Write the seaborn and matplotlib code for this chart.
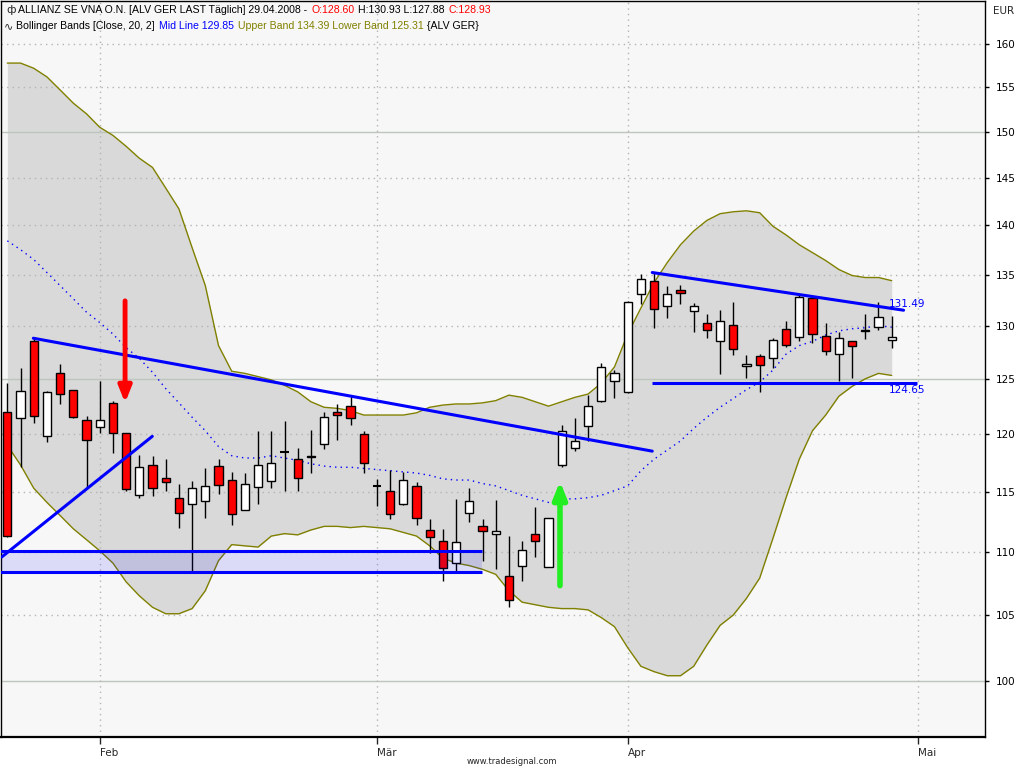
import numpy as np
import pandas as pd
import matplotlib
matplotlib.use("Agg")
import matplotlib.pyplot as plt
import matplotlib.ticker as mticker
import seaborn as sns

# daily candles, 23.01.2008 - 29.04.2008 (trading days only)
opens = [122.0, 121.4, 128.5, 119.8, 125.5, 124.0, 121.3, 120.6, 122.8, 120.1,
         114.7, 117.3, 116.2, 114.5, 114.0, 114.2, 117.2, 116.0, 113.5, 115.4,
         115.9, 118.4, 117.8, 118.0, 119.1, 122.0, 122.5, 120.0, 115.5, 115.1,
         114.0, 115.5, 111.8, 110.9, 109.1, 113.2, 112.1, 111.5, 108.1, 108.9,
         111.5, 108.8, 117.3, 118.8, 120.7, 123.0, 124.8, 123.8, 133.1, 134.4,
         131.9, 133.5, 131.4, 130.3, 128.5, 130.1, 126.2, 127.1, 126.9, 129.7,
         128.9, 132.7, 129.0, 127.3, 128.5, 129.5, 129.9, 128.60]
highs = [124.6, 126.0, 128.8, 123.9, 126.4, 124.0, 121.6, 124.8, 123.0, 120.1,
         118.2, 118.1, 117.8, 115.7, 115.9, 117.0, 117.8, 116.7, 116.6, 120.3,
         120.3, 121.2, 118.8, 120.4, 122.0, 122.7, 123.5, 120.3, 116.1, 116.9,
         116.7, 115.8, 112.7, 111.9, 114.4, 115.3, 112.7, 114.3, 111.3, 110.9,
         113.7, 112.8, 120.8, 121.4, 123.5, 126.5, 125.8, 132.4, 135.1, 135.2,
         133.9, 134.0, 132.2, 131.1, 131.5, 132.3, 127.2, 127.3, 128.8, 130.4,
         133.0, 132.8, 130.3, 129.4, 128.5, 131.1, 132.3, 130.93]
lows = [111.2, 117.1, 121.0, 119.3, 122.7, 121.4, 115.3, 120.1, 118.3, 115.1,
        114.5, 114.6, 115.1, 112.0, 108.4, 112.8, 114.8, 112.2, 113.5, 114.0,
        115.3, 115.1, 115.1, 116.6, 118.7, 119.5, 120.8, 116.6, 113.8, 112.7,
        113.9, 112.2, 109.9, 107.7, 108.4, 112.5, 109.3, 108.6, 105.6, 107.7,
        109.6, 108.8, 117.1, 118.5, 119.4, 122.9, 123.2, 123.7, 132.1, 129.8,
        130.7, 132.1, 129.4, 128.8, 125.4, 127.2, 125.1, 123.8, 126.0, 128.0,
        128.5, 128.3, 127.2, 124.8, 125.1, 128.7, 129.6, 127.88]
closes = [111.3, 123.9, 121.6, 123.8, 123.6, 121.5, 119.5, 121.3, 120.1, 115.2,
          117.1, 115.3, 115.8, 113.2, 115.3, 115.5, 115.6, 113.1, 115.7, 117.3,
          117.5, 118.4, 116.2, 118.1, 121.5, 121.7, 121.4, 117.5, 115.5, 113.1,
          116.0, 112.8, 111.2, 108.7, 110.8, 114.2, 111.7, 111.7, 106.2, 110.2,
          110.9, 112.8, 120.3, 119.4, 122.5, 126.1, 125.5, 132.3, 134.6, 131.6,
          133.1, 133.2, 131.9, 129.6, 130.4, 127.8, 126.4, 126.3, 128.6, 128.2,
          132.8, 129.2, 127.6, 128.8, 128.1, 129.6, 130.8, 128.93]

# Bollinger Bands [Close, 20, 2]
upper_band = [157.8, 157.8, 157.2, 156.2, 154.7, 153.2, 152.0, 150.5, 149.6, 148.4,
              147.1, 146.1, 143.9, 141.7, 137.7, 133.9, 128.1, 125.7, 125.5, 125.2,
              124.9, 124.4, 123.8, 122.9, 122.4, 122.3, 122.1, 121.7, 121.7, 121.7,
              121.7, 121.9, 122.4, 122.6, 122.7, 122.7, 122.8, 123.0, 123.5, 123.3,
              122.9, 122.5, 122.9, 123.3, 123.6, 124.6, 126.1, 129.2, 131.7, 134.2,
              136.2, 138.0, 139.4, 140.5, 141.2, 141.4, 141.5, 141.3, 139.9, 139.0,
              138.0, 137.2, 136.4, 135.5, 134.9, 134.7, 134.7, 134.39]
mid_line = [138.4, 137.5, 136.5, 135.2, 133.9, 132.6, 131.3, 130.3, 129.2, 127.9,
            126.9, 125.6, 124.1, 122.8, 121.5, 120.3, 118.9, 118.1, 117.9, 117.9,
            118.1, 117.9, 117.7, 117.4, 117.2, 117.1, 117.1, 117.0, 116.9, 116.8,
            116.7, 116.6, 116.4, 116.1, 116.0, 116.0, 115.7, 115.5, 115.1, 114.7,
            114.4, 114.1, 114.4, 114.4, 114.5, 114.7, 115.1, 115.5, 116.8, 117.8,
            118.6, 119.4, 120.5, 121.5, 122.4, 123.2, 124.0, 124.7, 125.8, 127.3,
            128.1, 128.5, 129.1, 129.5, 129.7, 129.8, 130.0, 129.85]
lower_band = [119.0, 117.3, 115.3, 114.1, 113.0, 111.9, 111.0, 110.1, 109.1, 107.6,
              106.5, 105.6, 105.1, 105.1, 105.5, 106.9, 109.3, 110.6, 110.5, 110.4,
              111.3, 111.5, 111.4, 111.8, 112.1, 112.1, 112.0, 112.1, 112.0, 111.9,
              111.6, 111.3, 110.5, 109.5, 109.1, 108.9, 108.6, 108.2, 106.9, 106.0,
              105.8, 105.6, 105.5, 105.5, 105.4, 104.8, 104.1, 102.5, 101.1, 100.7,
              100.4, 100.4, 101.1, 102.7, 104.2, 105.0, 106.3, 107.9, 111.1, 114.5,
              117.8, 120.3, 121.7, 123.4, 124.3, 125.0, 125.5, 125.31]

month_pos = [7, 28, 47, 69]
month_labels = ["Feb", "Mär", "Apr", "Mai"]
price_ticks = list(range(100, 161, 5))

# drawn lines: (x0, x1, y0, y1)
resist_down = (1.97, 48.86, 128.8, 118.5)
support_up = (-0.42, 10.98, 109.6, 119.8)
box_low, box_high, box_end = 108.4, 110.1, 35.94
resist_apr = (48.86, 67.9, 135.2, 131.49)
support_apr = (48.86, 68.9, 124.65)

df = pd.DataFrame({"open": opens, "high": highs, "low": lows, "close": closes,
                   "upper": upper_band, "mid": mid_line, "lower": lower_band})
df["day"] = np.arange(len(df))

sns.set_style("white")
plt.rcParams["font.family"] = ["DejaVu Sans"]

W, H = 1024, 768
fig = plt.figure(figsize=(W / 100, H / 100), dpi=100, facecolor="white")
ax = fig.add_axes([1 / W, 31 / H, 984 / W, 736 / H])
ax.set_facecolor("#f7f7f7")
ax.set_yscale("log")
ax.set_xlim(-0.48, 74.07)
ax.set_ylim(95.96, 165.2)

# bands
ax.fill_between(df["day"], df["lower"], df["upper"], color="#d9d9d9", lw=0, zorder=1)

# grid
for p in price_ticks:
    if p in (100, 125, 150):
        ax.axhline(p, color="#bcc6bc", lw=1, zorder=2)
    else:
        ax.axhline(p, color="#b4b4b4", lw=1, ls=(0, (1, 3)), zorder=2)
for m in month_pos:
    ax.axvline(m, color="#b4b4b4", lw=1, ls=(0, (1, 3)), zorder=2)

sns.lineplot(data=df, x="day", y="upper", color="#808000", lw=1, ax=ax, zorder=3, legend=False)
sns.lineplot(data=df, x="day", y="lower", color="#808000", lw=1, ax=ax, zorder=3, legend=False)
sns.lineplot(data=df, x="day", y="mid", color="#0000ff", lw=1, ls=(0, (1, 3)), ax=ax, zorder=3,
             legend=False)

# candles
bw = 0.62
up = df[df["close"] > df["open"]]
dn = df[df["close"] < df["open"]]
dj = df[df["close"] == df["open"]]
ax.vlines(df["day"], df["low"], df["high"], color="black", lw=1, zorder=4)
ax.bar(up["day"], up["close"] - up["open"], bottom=up["open"], width=bw,
       color="white", edgecolor="black", lw=1, zorder=5)
ax.bar(dn["day"], dn["open"] - dn["close"], bottom=dn["close"], width=bw,
       color="#ff0000", edgecolor="black", lw=1, zorder=5)
ax.hlines(dj["close"], dj["day"] - bw / 2, dj["day"] + bw / 2, color="black", lw=1.5, zorder=5)

# trend lines
blue = "#0000ff"
ax.plot(resist_down[:2], resist_down[2:], color=blue, lw=2.2, zorder=7)
ax.plot(support_up[:2], support_up[2:], color=blue, lw=2.2, zorder=7)
ax.fill_between([-0.55, box_end], box_low, box_high, color=blue, alpha=0.11, lw=0, zorder=6)
ax.hlines([box_low, box_high], -0.55, box_end, color=blue, lw=2.2, zorder=7)
ax.plot(resist_apr[:2], resist_apr[2:], color=blue, lw=2.2, zorder=7)
ax.hlines(support_apr[2], support_apr[0], support_apr[1], color=blue, lw=2.2, zorder=7)
ax.text(66.8, 132.1, f"{resist_apr[3]:.2f}", color=blue, fontsize=7.5, va="center", ha="left")
ax.text(66.8, 124.0, f"{support_apr[2]:.2f}", color=blue, fontsize=7.5, va="center", ha="left")

# arrows
ax.annotate("", xy=(8.92, 122.8), xytext=(8.92, 132.4), zorder=8,
            arrowprops=dict(arrowstyle="-|>,head_length=0.95,head_width=0.38",
                            color="#ff0000", lw=3.5, shrinkA=0, shrinkB=0))
ax.annotate("", xy=(41.87, 115.9), xytext=(41.87, 107.3), zorder=8,
            arrowprops=dict(arrowstyle="-|>,head_length=1.0,head_width=0.4",
                            color="#22ee22", lw=4, shrinkA=0, shrinkB=0))

# axes
ax.yaxis.tick_right()
ax.yaxis.set_major_locator(mticker.FixedLocator(price_ticks))
ax.yaxis.set_minor_locator(mticker.NullLocator())
ax.yaxis.set_major_formatter(mticker.FuncFormatter(lambda v, _: f"{v:.0f}"))
ax.tick_params(axis="y", length=3, width=1, pad=5, labelsize=7.5, colors="black", right=True)
ax.set_xticks(month_pos)
ax.set_xticklabels(month_labels)
ax.tick_params(axis="x", length=5, width=1, pad=3, labelsize=7.5, bottom=True)
for lbl in ax.get_xticklabels():
    lbl.set_ha("left")
ax.set_xlabel("")
ax.set_ylabel("")
for s in ax.spines.values():
    s.set_color("black")
    s.set_linewidth(1)
ax.spines["bottom"].set_linewidth(1.6)

fig.text(993 / W, 1 - 11 / H, "EUR", fontsize=7.5, va="center", ha="left")
fig.text(512 / W, 1 - 761 / H, "www.tradesignal.com", fontsize=6, va="center", ha="center")

# header
fig.canvas.draw()
renderer = fig.canvas.get_renderer()
hfont = dict(fontsize=7.6, family=["Liberation Sans", "DejaVu Sans"])


def header(x_px, y_px, parts):
    x = x_px
    for txt, col, gap in parts:
        t = fig.text(x / W, 1 - y_px / H, txt, color=col, va="center", ha="left", **hfont)
        bb = t.get_window_extent(renderer)
        x = bb.x1 + gap


fig.text(6 / W, 1 - 10 / H, "ф", fontsize=8, va="center", ha="left", family=["DejaVu Sans"])
header(18, 10, [("ALLIANZ SE VNA O.N. [ALV GER LAST Täglich] 29.04.2008 -", "black", 4),
                (f"O:{opens[-1]:.2f}", "#ff0000", 4),
                (f"H:{highs[-1]:.2f} L:{lows[-1]:.2f}", "black", 4),
                (f"C:{closes[-1]:.2f}", "#ff0000", 0)])
fig.text(4 / W, 1 - 26 / H, "∿", fontsize=8, va="center", ha="left", family=["DejaVu Sans"])
header(16, 26, [("Bollinger Bands [Close, 20, 2]", "black", 4),
                (f"Mid Line {mid_line[-1]:.2f}", "#0000ff", 4),
                (f"Upper Band {upper_band[-1]:.2f} Lower Band {lower_band[-1]:.2f}", "#808000", 4),
                ("{ALV GER}", "black", 0)])

fig.savefig("out.png", dpi=100, facecolor="white")
